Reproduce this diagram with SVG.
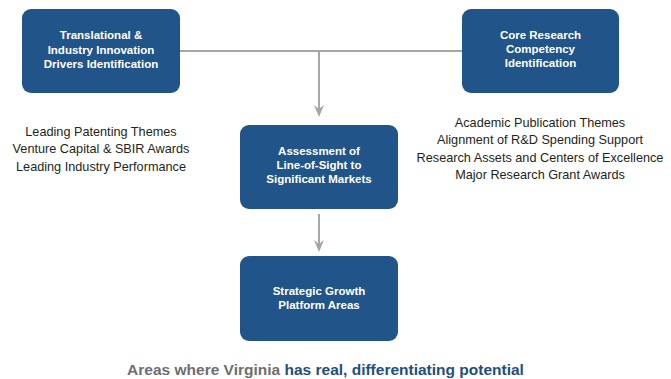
<svg xmlns="http://www.w3.org/2000/svg" width="671" height="379" viewBox="0 0 671 379">
<defs>
<style>
.box{fill:#21558a;}
.bt{font-family:"Liberation Sans",Arial,sans-serif;font-weight:bold;font-size:11.5px;fill:#ffffff;text-anchor:middle;}
.lt{font-family:"Liberation Sans",Arial,sans-serif;font-size:12.7px;fill:#231f20;text-anchor:middle;}
.conn{stroke:#a6a6a6;stroke-width:2;fill:none;}
.ft{font-family:"Liberation Sans",Arial,sans-serif;font-weight:bold;font-size:15.5px;}
</style>
</defs>
<rect width="671" height="379" fill="#ffffff"/>
<g id="connectors">
<path class="conn" d="M180,51 H462"/>
<path class="conn" d="M319,51 V110"/>
<path d="M314,105 L319,117 L324,105 L319,109 Z" fill="#a6a6a6"/>
<path class="conn" d="M319,214 V245"/>
<path d="M314,240 L319,252 L324,240 L319,244 Z" fill="#a6a6a6"/>
</g>
<g id="node-translational">
<rect class="box" x="22" y="9" width="158" height="84" rx="9"/>
<text class="bt" x="101" y="39">Translational &amp;</text>
<text class="bt" x="101" y="53.5">Industry Innovation</text>
<text class="bt" x="101" y="67.5">Drivers Identification</text>
</g>
<g id="node-core">
<rect class="box" x="462" y="9" width="157" height="84" rx="9"/>
<text class="bt" x="540.5" y="39">Core Research</text>
<text class="bt" x="540.5" y="53">Competency</text>
<text class="bt" x="540.5" y="67">Identification</text>
</g>
<g id="node-assessment">
<rect class="box" x="240" y="125" width="158" height="84" rx="9"/>
<text class="bt" x="319" y="155">Assessment of</text>
<text class="bt" x="319" y="169">Line-of-Sight to</text>
<text class="bt" x="319" y="183">Significant Markets</text>
</g>
<g id="node-strategic">
<rect class="box" x="240" y="256" width="158" height="85" rx="9"/>
<text class="bt" x="319" y="295">Strategic Growth</text>
<text class="bt" x="319" y="309">Platform Areas</text>
</g>
<g id="list-left">
<text class="lt" x="101" y="135.5">Leading Patenting Themes</text>
<text class="lt" x="101" y="153">Venture Capital &amp; SBIR Awards</text>
<text class="lt" x="101" y="170.5">Leading Industry Performance</text>
</g>
<g id="list-right">
<text class="lt" x="540" y="126.5">Academic Publication Themes</text>
<text class="lt" x="540" y="144">Alignment of R&amp;D Spending Support</text>
<text class="lt" x="540" y="161.5">Research Assets and Centers of Excellence</text>
<text class="lt" x="540" y="179">Major Research Grant Awards</text>
</g>
<text class="ft" x="325.5" y="374.5" text-anchor="middle"><tspan fill="#6d6e70">Areas where Virginia </tspan><tspan fill="#1f4e82">has real, differentiating potential</tspan></text>
</svg>
